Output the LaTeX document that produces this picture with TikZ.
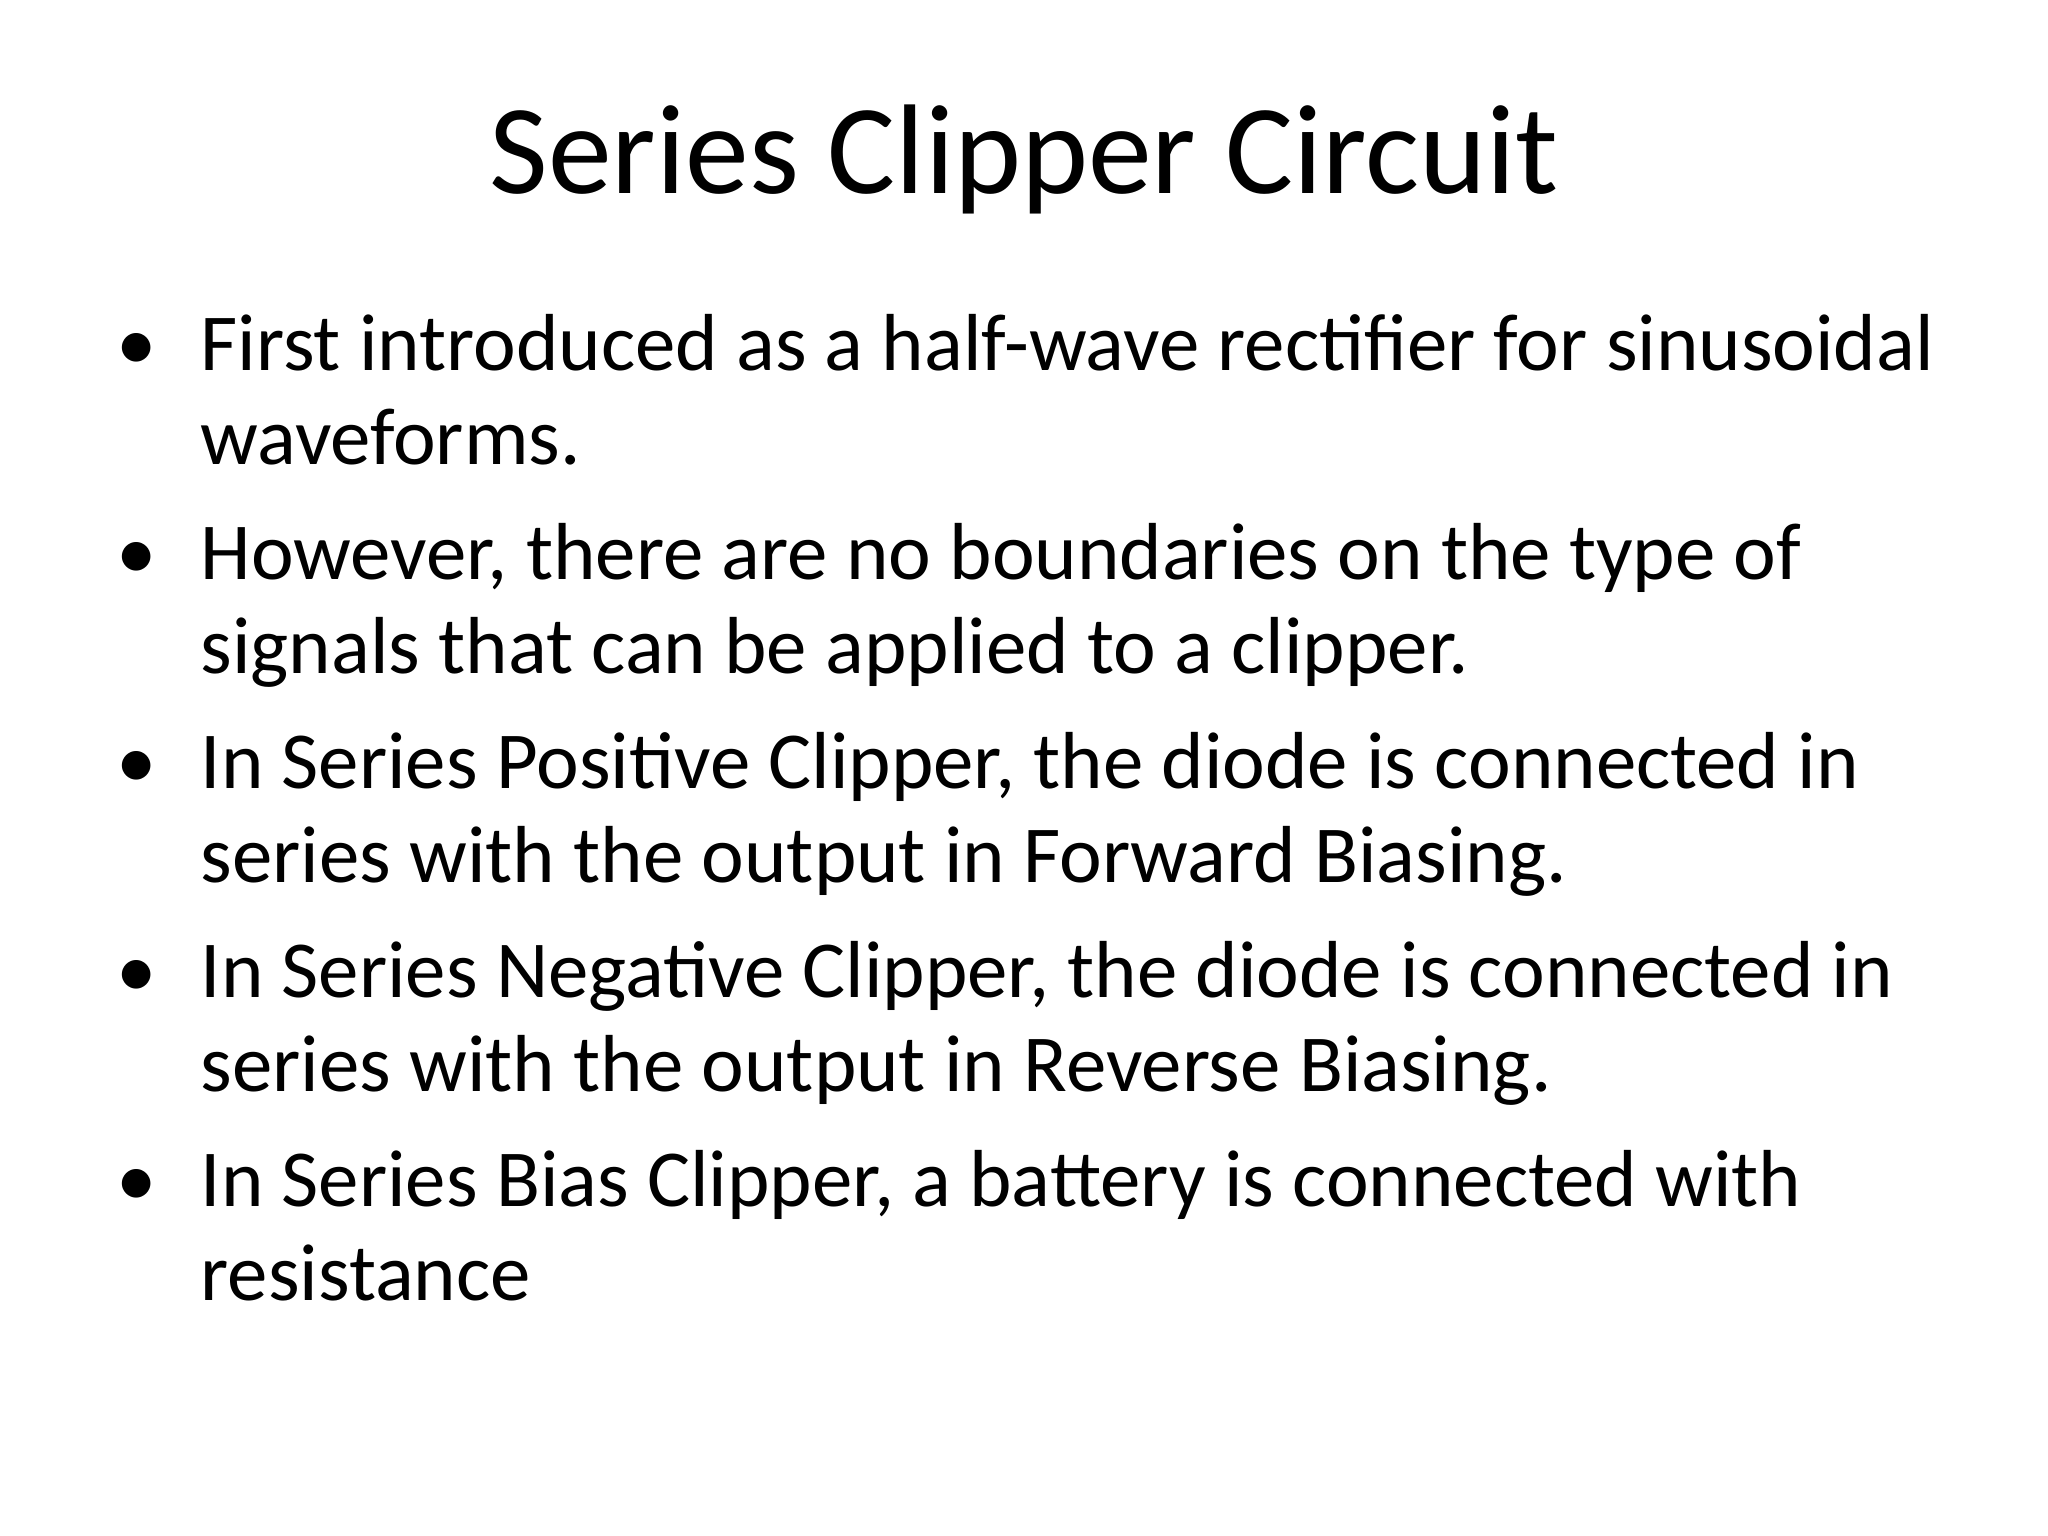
\documentclass[tikz,border=0pt]{standalone}
\usepackage{fontspec}
\setmainfont{Carlito}
\begin{document}
\begin{tikzpicture}[x=0.01cm,y=-0.01cm,
  ln/.style={anchor=base west,inner sep=0pt,font=\fontsize{23}{27}\selectfont},
  bl/.style={anchor=base,inner sep=0pt,font=\fontsize{23}{27}\selectfont}]
\useasboundingbox[fill=white] (0,0) rectangle (2048,1536);
\node[anchor=base,inner sep=0pt,font=\fontsize{36.3}{40}\selectfont] (title) at (1024,193) {Series Clipper Circuit};
\foreach \y/\n in {370/b1,579/b2,788/b3,997/b4,1206/b5}
  \node[bl] (\n) at (137,\y) {•};
\node[ln] (l1) at (200,370) {First introduced as a half-wave rectifier for sinusoidal};
\node[ln] (l2) at (200,464) {waveforms.};
\node[ln] (l3) at (200,579) {However, there are no boundaries on the type of};
\node[ln] (l4) at (200,673) {signals that can be applied to a clipper.};
\node[ln] (l5) at (200,788) {In Series Positive Clipper, the diode is connected in};
\node[ln] (l6) at (200,882) {series with the output in Forward Biasing.};
\node[ln] (l7) at (200,997) {In Series Negative Clipper, the diode is connected in};
\node[ln] (l8) at (200,1091) {series with the output in Reverse Biasing.};
\node[ln] (l9) at (200,1206) {In Series Bias Clipper, a battery is connected with};
\node[ln] (l10) at (200,1300) {resistance};
\end{tikzpicture}
\end{document}
